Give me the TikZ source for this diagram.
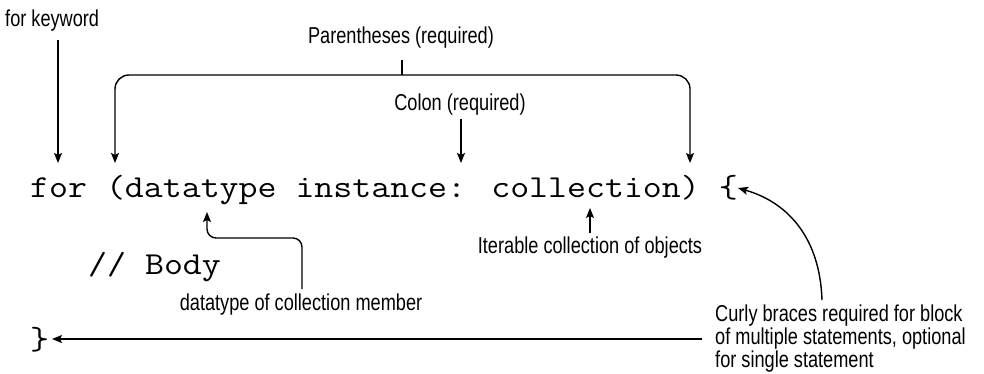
\documentclass[tikz,border=0pt]{standalone}
\usepackage{fontspec}
\newfontfamily\lblfont{Liberation Sans}[FakeStretch=0.79]
\newfontfamily\codefont{Latin Modern Mono}[FakeStretch=1.15]
\usetikzlibrary{arrows.meta}
\tikzset{
  lbl/.style={font=\lblfont\fontsize{23}{23}\selectfont, inner sep=0pt},
  code/.style={font=\codefont\fontsize{32}{36}\selectfont, inner sep=0pt, anchor=base west},
  arr/.style={line width=1.4pt, -{Stealth[length=10pt,width=8pt,inset=2pt]}},
  lin/.style={line width=1.4pt}
}
\begin{document}
\begin{tikzpicture}[x=1pt, y=-1pt]
\useasboundingbox (0,0) rectangle (984,373);
% the code
\node[code] (head) at (30,197) {for (datatype instance: collection) \{};
\node[code] (body) at (88,274) {// Body};
\node[code] (close) at (30,349) {\}};
% labels
\node[lbl, anchor=base west] (kwlbl) at (5,26) {for keyword};
\node[lbl, anchor=base] (parlbl) at (401,43) {Parentheses (required)};
\node[lbl, anchor=base] (collbl) at (460,110) {Colon (required)};
\node[lbl, anchor=base] (itlbl) at (590,253) {Iterable collection of objects};
\node[lbl, anchor=base] (dtlbl) at (301,310) {datatype of collection member};
\node[lbl, anchor=west, align=left] (brlbl) at (715,339) {Curly braces required for block\\of multiple statements, optional\\for single statement};
% points in the code
\coordinate (forpt) at (58,163);
\coordinate (lparpt) at (115,163);
\coordinate (rparpt) at (690,163);
\coordinate (colpt) at (461,163);
\coordinate (dtpt) at (207,212);
\coordinate (itpt) at (590,208);
\coordinate (openpt) at (738,188);
\coordinate (closept) at (52,339);
\coordinate (join) at (402,75);
% arrows
\draw[arr] (forpt |- 0,40) -- (forpt);
\draw[lin] (parlbl.south -| join) ++(0,12) -- (join);
\draw[arr, rounded corners=14pt] (join) -| (lparpt);
\draw[arr, rounded corners=14pt] (join) -| (rparpt);
\draw[arr] (colpt |- 0,119) -- (colpt);
\draw[arr] (itpt |- 0,233) -- (itpt);
\draw[arr, rounded corners=9pt] (302,289) -- (302,238) -- (dtpt |- 0,238) -- (dtpt);
\draw[arr] (brlbl.west |- closept) ++(-13,0) -- (closept);
\draw[arr] (822,300) .. controls (820,240) and (790,203) .. (openpt);
\end{tikzpicture}
\end{document}
